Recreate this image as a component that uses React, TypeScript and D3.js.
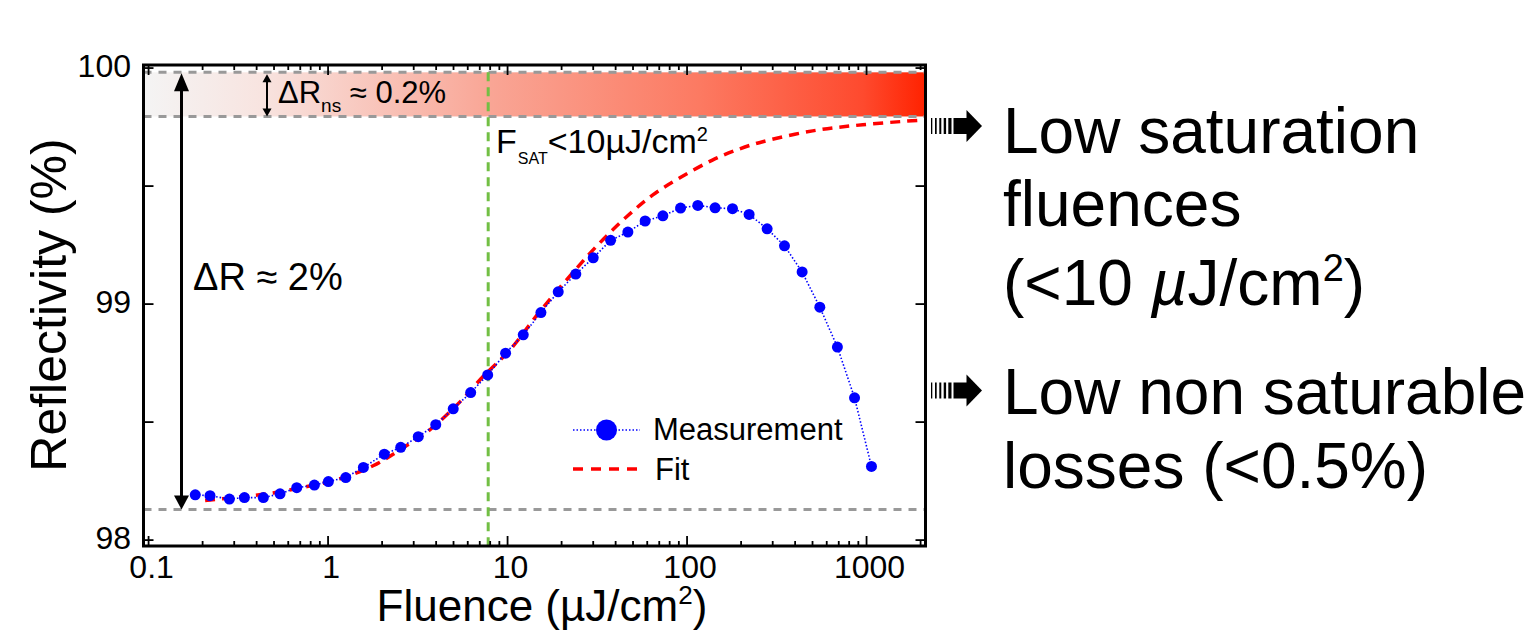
import React from 'react';
import * as d3 from 'd3';

// Measurement data (Fluence in µJ/cm², Reflectivity in %)
const measFluence = [0.182, 0.220, 0.282, 0.342, 0.436, 0.540, 0.669, 0.839, 1.004, 1.255, 1.573, 2.058, 2.54, 3.18, 3.98, 4.98, 6.23, 7.75, 9.75, 12.23, 15.34, 19.15, 24.0, 30.0, 37.5, 46.8, 58.4, 73.3, 92.0, 114.8, 143.3, 179.1, 221.7, 279.3, 349, 437.5, 549, 688, 857, 1065];
const measReflectivity = [98.192, 98.188, 98.174, 98.18, 98.18, 98.196, 98.222, 98.233, 98.248, 98.265, 98.308, 98.364, 98.393, 98.438, 98.489, 98.556, 98.625, 98.70, 98.792, 98.87, 98.964, 99.052, 99.127, 99.196, 99.27, 99.305, 99.352, 99.374, 99.407, 99.418, 99.408, 99.404, 99.38, 99.319, 99.247, 99.136, 98.987, 98.818, 98.603, 98.312];

// Fit curve
const fitFluence = [0.2066, 0.3236, 0.494, 0.764, 1.166, 1.781, 2.52, 3.70, 5.57, 7.30, 10.31, 15.14, 23.1, 32.7, 46.2, 64.5, 91.2, 139.3, 196.8, 264, 501, 952, 1977];
const fitReflectivity = [98.168, 98.183, 98.20, 98.227, 98.26, 98.315, 98.383, 98.468, 98.594, 98.693, 98.806, 98.969, 99.133, 99.26, 99.371, 99.463, 99.535, 99.611, 99.658, 99.688, 99.734, 99.760, 99.779];

const xMajorTicks = [0.1, 1, 10, 100, 1000];
const xTickLabels = ['0.1', '1', '10', '100', '1000'];
const yTicks = [98, 98.5, 99, 99.5, 100];
const yTickLabels = ['98', '', '99', '', '100'];

const refLines = [99.982, 99.795, 98.13]; // gray dashed lines
const satFluence = 7.8; // green dashed line

const FONT = '"Liberation Sans", Arial, Helvetica, sans-serif';

export default function App() {
  const left = 143.5, right = 925.5, top = 65, bottom = 546;
  const x = d3.scaleLog().domain([0.0937, 2130]).range([left, right]);
  const y = d3.scaleLinear().domain([97.975, 100.013]).range([bottom, top]);

  const allTicks = x.ticks().filter((t) => t >= x.domain()[0] && t <= x.domain()[1]);
  const isMajor = (t: number) => Math.abs(Math.log10(t) - Math.round(Math.log10(t))) < 1e-6;

  const measPts: [number, number][] = measFluence.map((f, i) => [x(f), y(measReflectivity[i])]);
  const fitPts: [number, number][] = fitFluence.map((f, i) => [x(f), y(fitReflectivity[i])]);
  const fitLine = d3.line().curve(d3.curveCatmullRom.alpha(0.5));
  const measLine = d3.line();

  const yTop = y(refLines[0]);
  const yNs = y(refLines[1]);
  const yBot = y(refLines[2]);
  const xg = x(satFluence);

  const bigArrowX = 181.5;
  const smallArrowX = 267;

  const rightArrow = (cy: number, key: string) => {
    const stripes = [[931, 1.3], [935, 1.7], [939.3, 2], [943.7, 2.4], [948.3, 3.2]];
    return (
      <g key={key} fill="#000">
        {stripes.map(([sx, w], i) => (
          <rect key={i} x={sx} y={cy - 8} width={w} height={16} />
        ))}
        <rect x={953.5} y={cy - 8} width={14} height={16} />
        <polygon points={`${966.5},${cy - 16} ${982},${cy} ${966.5},${cy + 16}`} />
      </g>
    );
  };

  return (
    <svg width={1539} height={631} style={{ position: 'absolute', left: 0, top: 0, background: '#fff' }} fontFamily={FONT}>
      <defs>
        <linearGradient id="band" x1="0" x2="1" y1="0" y2="0">
          <stop offset="0" stopColor="#f4f4f4" />
          <stop offset="0.15" stopColor="#f8e4e0" />
          <stop offset="0.44" stopColor="#f9a696" />
          <stop offset="0.71" stopColor="#fc7a62" />
          <stop offset="0.92" stopColor="#fe4a2e" />
          <stop offset="1" stopColor="#ff2200" />
        </linearGradient>
      </defs>
      <rect x={0} y={0} width={1539} height={631} fill="#fff" />

      {/* gradient band */}
      <rect x={left} y={yTop} width={right - left} height={yNs - yTop} fill="url(#band)" />

      {/* gray dashed reference lines */}
      {refLines.map((r, i) => (
        <line key={i} x1={left} x2={right} y1={y(r)} y2={y(r)} stroke="#999" strokeWidth={3} strokeDasharray="8 7" />
      ))}

      {/* green saturation line */}
      <line x1={xg} x2={xg} y1={yTop} y2={bottom} stroke="#72bf44" strokeWidth={3} strokeDasharray="9 6" />

      {/* fit */}
      <path d={fitLine(fitPts) || ''} fill="none" stroke="#ff0000" strokeWidth={3.5} strokeDasharray="10 7" />

      {/* measurement */}
      <path d={measLine(measPts) || ''} fill="none" stroke="#0000ff" strokeWidth={1.6} strokeDasharray="1.5 2" />
      {measPts.map(([px, py], i) => (
        <circle key={i} cx={px} cy={py} r={5.5} fill="#0000ff" />
      ))}

      {/* axes frame */}
      <rect x={left} y={top} width={right - left} height={bottom - top} fill="none" stroke="#000" strokeWidth={3} />
      {allTicks.map((t, i) => {
        const len = isMajor(t) ? 10 : 5;
        const px = x(t);
        return (
          <g key={i} stroke="#000" strokeWidth={1.8}>
            <line x1={px} x2={px} y1={bottom} y2={bottom - len} />
            <line x1={px} x2={px} y1={top} y2={top + len} />
          </g>
        );
      })}
      {yTicks.map((t, i) => (
        <g key={i} stroke="#000" strokeWidth={1.8}>
          <line x1={left} x2={left + 10} y1={y(t)} y2={y(t)} />
          <line x1={right} x2={right - 10} y1={y(t)} y2={y(t)} />
        </g>
      ))}

      {/* tick labels */}
      {xMajorTicks.map((t, i) => (
        <text key={i} x={x(t) + 3} y={578} fontSize={32} textAnchor="middle" fill="#000">{xTickLabels[i]}</text>
      ))}
      {yTicks.map((t, i) => (
        yTickLabels[i] ? <text key={i} x={131} y={y(t) + 8.5} fontSize={32} textAnchor="end" fill="#000">{yTickLabels[i]}</text> : null
      ))}

      {/* axis titles */}
      <text x={542} y={621} fontSize={44} textAnchor="middle" fill="#000">
        Fluence (µJ/cm<tspan fontSize={26} dy={-17}>2</tspan><tspan dy={17}>)</tspan>
      </text>
      <text transform="translate(66,305) rotate(-90)" fontSize={50} textAnchor="middle" fill="#000">Reflectivity (%)</text>

      {/* big ΔR arrow */}
      <g stroke="#000" fill="#000">
        <line x1={bigArrowX} x2={bigArrowX} y1={yTop + 14} y2={yBot - 12} strokeWidth={3} />
        <polygon points={`${bigArrowX},${yTop + 1} ${bigArrowX - 7.5},${yTop + 19} ${bigArrowX + 7.5},${yTop + 19}`} stroke="none" />
        <polygon points={`${bigArrowX},${yBot} ${bigArrowX - 7.5},${yBot - 14} ${bigArrowX + 7.5},${yBot - 14}`} stroke="none" />
      </g>
      <text x={193} y={290} fontSize={38} fill="#000">ΔR ≈ 2%</text>

      {/* small ΔRns arrow */}
      <g stroke="#000" fill="#000">
        <line x1={smallArrowX} x2={smallArrowX} y1={yTop + 6} y2={yNs - 6} strokeWidth={2} />
        <polygon points={`${smallArrowX},${yTop + 2} ${smallArrowX - 4.5},${yTop + 10} ${smallArrowX + 4.5},${yTop + 10}`} stroke="none" />
        <polygon points={`${smallArrowX},${yNs} ${smallArrowX - 4.5},${yNs - 8} ${smallArrowX + 4.5},${yNs - 8}`} stroke="none" />
      </g>
      <text x={278} y={103} fontSize={31} fill="#000">
        ΔR<tspan fontSize={19} dy={9}>ns</tspan><tspan dy={-9}> ≈ 0.2%</tspan>
      </text>

      {/* F_SAT label */}
      <text x={496} y={153} fontSize={34} fill="#000">
        F<tspan fontSize={16} dy={11} dx={1}>SAT</tspan><tspan dy={-11}>&lt;10µJ/cm</tspan><tspan fontSize={20} dy={-12}>2</tspan>
      </text>

      {/* legend */}
      <line x1={573} x2={640} y1={430} y2={430} stroke="#0000ff" strokeWidth={1.6} strokeDasharray="1.5 2" />
      <circle cx={606.5} cy={430} r={10.5} fill="#0000ff" />
      <text x={653} y={440} fontSize={31} fill="#000">Measurement</text>
      <line x1={573} x2={640} y1={469} y2={469} stroke="#ff0000" strokeWidth={3.5} strokeDasharray="10 8" />
      <text x={655} y={480} fontSize={31} fill="#000">Fit</text>

      {/* right side arrows and text */}
      {rightArrow(126, 'a1')}
      {rightArrow(390.5, 'a2')}
      <g fontSize={64} fill="#000">
        <text x={1003} y={153}>Low saturation</text>
        <text x={1003} y={226}>fluences</text>
        <text x={1003} y={305}>(&lt;10 <tspan fontStyle="italic">µ</tspan>J/cm<tspan fontSize={38} dy={-24}>2</tspan><tspan dy={24}>)</tspan></text>
        <text x={1003} y={414}>Low non saturable</text>
        <text x={1003} y={488}>losses (&lt;0.5%)</text>
      </g>
    </svg>
  );
}
